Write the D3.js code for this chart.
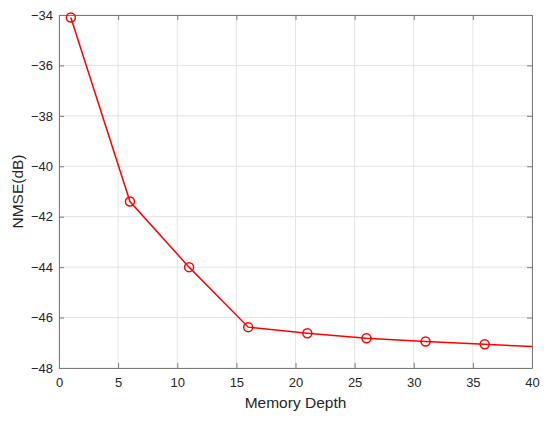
<!DOCTYPE html>
<html>
<head>
<meta charset="utf-8">
<script src="https://cdn.jsdelivr.net/npm/d3@7"></script>
<style>
  body { margin: 0; background: #fff; }
  text { font-family: "Liberation Sans", Arial, sans-serif; }
</style>
</head>
<body>
<div id="chart"></div>
<script>
// data
var depth = [1, 6, 11, 16, 21, 26, 31, 36, 40]
var nmse = [-34.1, -41.4, -44.0, -46.38, -46.62, -46.82, -46.95, -47.06, -47.15]
var markerDepth = [1, 6, 11, 16, 21, 26, 31, 36]
var xTicks = [0, 5, 10, 15, 20, 25, 30, 35, 40]
var yTicks = [-34, -36, -38, -40, -42, -44, -46, -48]

var width = 550, height = 421
var margin = {left: 59, right: 18, top: 15, bottom: 53}

var svg = d3.select("#chart").append("svg")
    .attr("width", width)
    .attr("height", height)

var x = d3.scaleLinear().domain([0, 40]).range([margin.left, width - margin.right])
var y = d3.scaleLinear().domain([-48, -34]).range([height - margin.bottom, margin.top])

// grid
svg.append("g").selectAll("line").data(xTicks).enter().append("line")
    .attr("x1", d => x(d)).attr("x2", d => x(d))
    .attr("y1", y(-48)).attr("y2", y(-34))
    .attr("stroke", "#e3e3e3").attr("stroke-width", 1)
svg.append("g").selectAll("line").data(yTicks).enter().append("line")
    .attr("x1", x(0)).attr("x2", x(40))
    .attr("y1", d => y(d)).attr("y2", d => y(d))
    .attr("stroke", "#e3e3e3").attr("stroke-width", 1)

// axes (ticks inside)
var axisColor = "#7a7a7a"
var xAxis = svg.append("g")
    .attr("transform", "translate(0," + y(-48) + ")")
    .call(d3.axisBottom(x).tickValues(xTicks).tickSizeInner(-5).tickSizeOuter(0).tickPadding(10))
var xTop = svg.append("g")
    .attr("transform", "translate(0," + y(-34) + ")")
    .call(d3.axisTop(x).tickValues(xTicks).tickSizeInner(-5).tickSizeOuter(0).tickFormat(""))
var yAxis = svg.append("g")
    .attr("transform", "translate(" + x(0) + ",0)")
    .call(d3.axisLeft(y).tickValues(yTicks).tickSizeInner(-5).tickSizeOuter(0).tickPadding(6))
var yRight = svg.append("g")
    .attr("transform", "translate(" + x(40) + ",0)")
    .call(d3.axisRight(y).tickValues(yTicks).tickSizeInner(-5).tickSizeOuter(0).tickFormat(""))

;[xAxis, xTop, yAxis, yRight].forEach(function(g) {
  g.selectAll("path, line").attr("stroke", axisColor)
  g.selectAll("text").attr("fill", "#262626").style("font-size", "13px")
})

// axis labels
svg.append("text")
    .attr("x", x(20)).attr("y", 408)
    .attr("text-anchor", "middle")
    .attr("fill", "#262626")
    .style("font-size", "15.5px")
    .text("Memory Depth")
svg.append("text")
    .attr("transform", "translate(23," + y(-41) + ") rotate(-90)")
    .attr("text-anchor", "middle")
    .attr("fill", "#262626")
    .style("font-size", "15.5px")
    .text("NMSE(dB)")

// line
var line = d3.line().x(d => x(d[0])).y(d => y(d[1]))
svg.append("path")
    .datum(depth.map((d, i) => [d, nmse[i]]))
    .attr("d", line)
    .attr("fill", "none")
    .attr("stroke", "#ff0000")
    .attr("stroke-width", 1.5)

// markers
svg.append("g").selectAll("circle")
    .data(markerDepth)
    .enter().append("circle")
      .attr("cx", d => x(d))
      .attr("cy", d => y(nmse[depth.indexOf(d)]))
      .attr("r", 4.5)
      .attr("fill", "none")
      .attr("stroke", "#ff0000")
      .attr("stroke-width", 1.5)
</script>
</body>
</html>
